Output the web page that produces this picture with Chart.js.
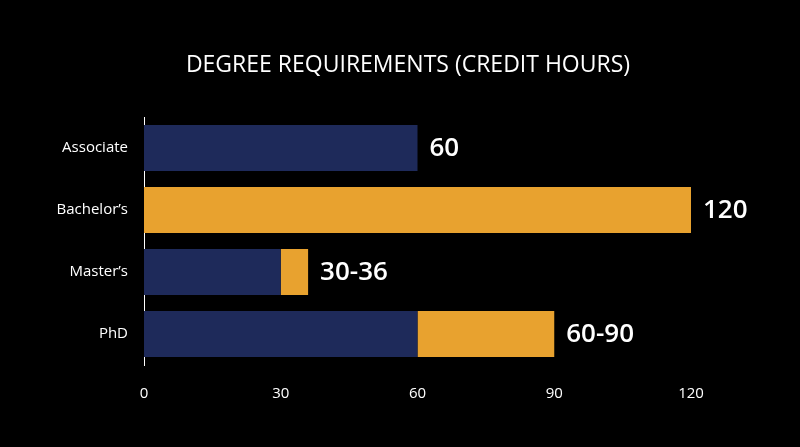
<!DOCTYPE html>
<html><head><meta charset="utf-8">
<script src="https://cdn.jsdelivr.net/npm/chart.js@4"></script>
<style>html,body{margin:0;background:#000;}#w{width:800px;height:447px;}</style>
</head><body><div id="w"><canvas id="c"></canvas></div>
<script>
const categories = ["Associate","Bachelor’s","Master’s","PhD"];
const baseValues = [60, 0, 30, 60];
const extraValues = [0, 120, 6, 30];
const valueLabels = ["60","120","30-36","60-90"];
const xTicks = [0,30,60,90,120];
const NAVY = "#1e2a5a", ORANGE = "#e8a22f";
const FONT = "'Open Sans', 'Noto Sans', sans-serif";

const labelPlugin = {
  id: 'lbl',
  afterDatasetsDraw(chart){
    const ctx = chart.ctx, x = chart.scales.x, y = chart.scales.y;
    ctx.save();
    ctx.fillStyle = '#fff';
    ctx.font = "600 26px " + FONT;
    ctx.textBaseline = 'middle';
    categories.forEach((c,i)=>{
      const end = baseValues[i] + extraValues[i];
      ctx.fillText(valueLabels[i], x.getPixelForValue(end) + 12, y.getPixelForValue(i) + 1);
    });
    ctx.font = "400 23px " + FONT;
    ctx.textAlign = 'center';
    ctx.fillText("DEGREE REQUIREMENTS (CREDIT HOURS)", 408, 65);
    ctx.restore();
  }
};

new Chart(document.getElementById('c'), {
  type: 'bar',
  data: {
    labels: categories,
    datasets: [
      {data: baseValues, backgroundColor: NAVY, barPercentage: 1, categoryPercentage: 0.74},
      {data: extraValues, backgroundColor: ORANGE, barPercentage: 1, categoryPercentage: 0.74}
    ]
  },
  options: {
    indexAxis: 'y',
    responsive: true, maintainAspectRatio: false, animation: false,
    layout: {padding: {top: 117, right: 109, left: 0, bottom: 0}},
    plugins: {legend: {display: false}, tooltip: {enabled: false}},
    scales: {
      x: {
        stacked: true, min: 0, max: 120,
        afterBuildTicks(s){ s.ticks = xTicks.map(v=>({value:v})); },
        afterFit(s){ s.height = 82; },
        grid: {display: false, drawTicks: false},
        border: {display: false},
        ticks: {color: '#fff', font: {family: FONT, size: 15}, padding: 20}
      },
      y: {
        stacked: true,
        afterFit(s){ s.width = 144; },
        grid: {display: false, drawTicks: false},
        border: {display: true, color: '#fff', width: 1},
        ticks: {color: '#fff', font: {family: FONT, size: 15}, padding: 16}
      }
    }
  },
  plugins: [labelPlugin]
});
</script></body></html>
